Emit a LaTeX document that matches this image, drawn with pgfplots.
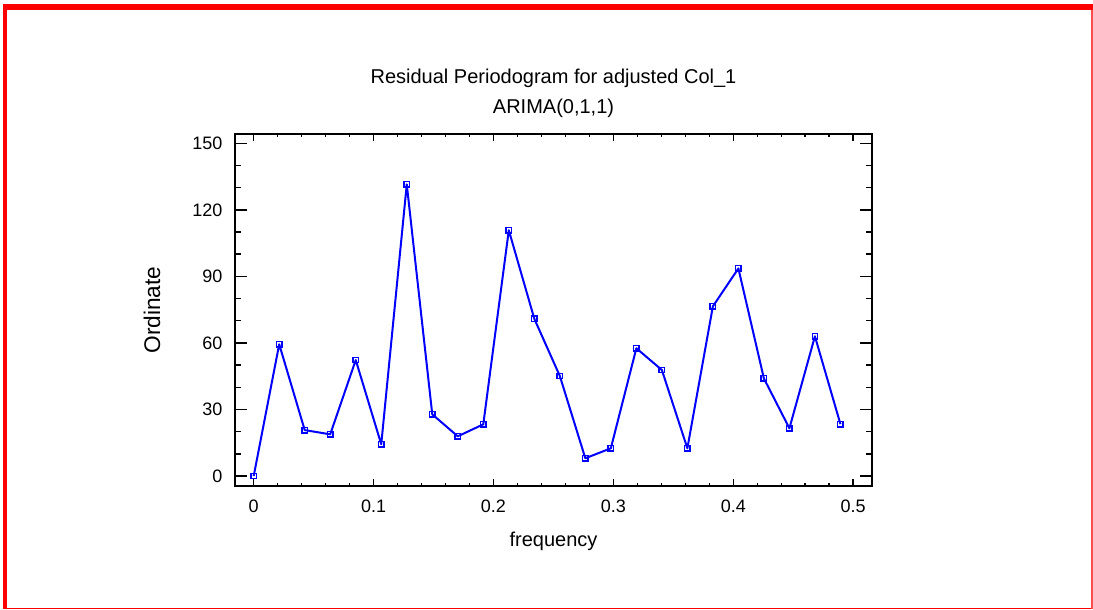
\documentclass[border=0pt]{standalone}
\usepackage{pgfplots}
\pgfplotsset{compat=1.18}
\usepackage{fontspec}
\setmainfont{Liberation Sans}
\definecolor{framered}{RGB}{255,0,0}
\definecolor{lineblue}{RGB}{0,0,255}
\begin{document}
\begin{tikzpicture}
\begin{axis}[
  scale only axis,
  width=477.75pt, height=264pt,
  xmin=-0.0156, xmax=0.5157,
  ymin=-4.5, ymax=154.2,
  xtick={0,0.1,0.2,0.3,0.4,0.5},
  ytick={0,30,60,90,120,150},
  minor x tick num=4,
  minor y tick num=2,
  tick align=inside,
  axis line style={line width=1.5pt},
  major tick length=9pt,
  minor tick length=4.5pt,
  every tick/.style={black, line width=1.1pt},
  major x tick style={/pgfplots/major tick length=5pt},
  minor x tick style={/pgfplots/minor tick length=2.5pt},
  xticklabel style={font=\fontsize{13.5}{16}\selectfont, yshift=-7pt},
  yticklabel style={font=\fontsize{13.5}{16}\selectfont, xshift=-6pt},
  /pgf/number format/assume math mode=true,
  xticklabel={\pgfmathprintnumber[fixed,precision=1]{\tick}},
  xlabel={frequency},
  ylabel={Ordinate},
  xlabel style={font=\fontsize{15}{18}\selectfont, at={(axis description cs:0.5,-0.1733)}, anchor=base},
  ylabel style={font=\fontsize{17}{20}\selectfont, at={(axis description cs:-0.1303,0.5)}, anchor=center, rotate=0},
  title={Residual Periodogram for adjusted Col\_1\\[4pt]ARIMA(0,1,1)},
  title style={font=\fontsize{15}{18}\selectfont, align=center, at={(axis description cs:0.5,1)}, anchor=south, yshift=3pt},
]
\addplot[lineblue, line width=1.5pt, line join=round, mark=square, mark size=2pt, mark options={line width=1.1pt, fill=white, line join=miter}] coordinates {
(0.00000,0.0)
(0.02128,59.4)
(0.04255,20.7)
(0.06383,18.8)
(0.08511,52.3)
(0.10638,14.3)
(0.12766,131.5)
(0.14894,27.8)
(0.17021,17.9)
(0.19149,23.3)
(0.21277,110.8)
(0.23404,70.9)
(0.25532,45.1)
(0.27660,8.0)
(0.29787,12.5)
(0.31915,57.6)
(0.34043,47.8)
(0.36170,12.5)
(0.38298,76.5)
(0.40426,93.6)
(0.42553,44.0)
(0.44681,21.5)
(0.46809,63.0)
(0.48936,23.4)
};
\end{axis}
\begin{scope}[x=0.75pt,y=0.75pt,shift={(-235,-124)}]
\pgfresetboundingbox
\useasboundingbox (0,0) rectangle (1093,610);
\fill[framered] (3,610-4) rectangle (1093,610-10);
\fill[framered] (3,610-4) rectangle (7,0.8);
\fill[framered] (3,0.6) rectangle (1093,2);
\fill[framered!70] (1091.2,610-10) rectangle (1092.6,0.8);
\end{scope}
\end{tikzpicture}
\end{document}
